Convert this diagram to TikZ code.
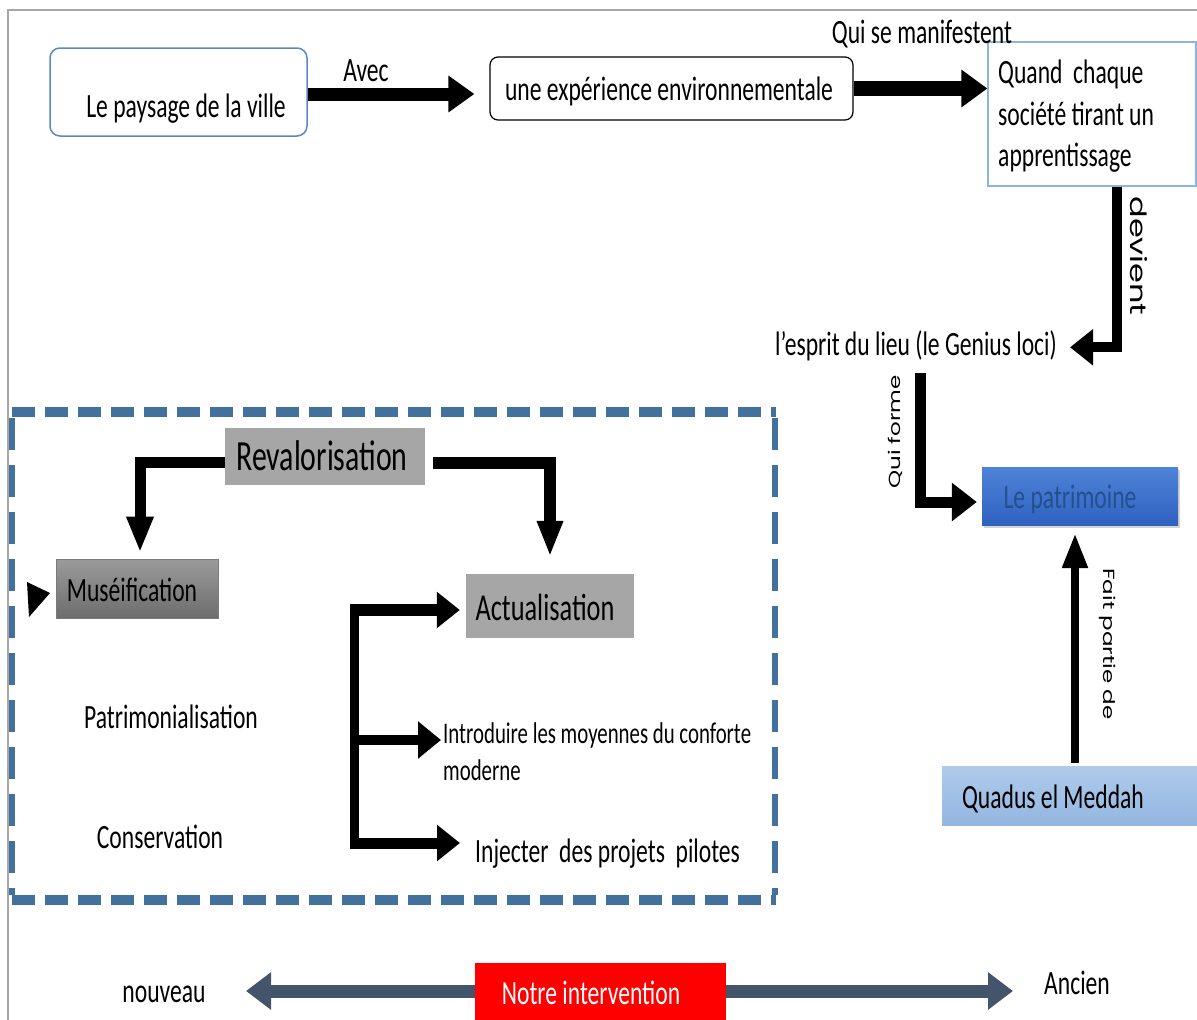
\documentclass[tikz,border=0pt]{standalone}
\usepackage{fontspec}
\setmainfont{Carlito}[FakeStretch=0.694]
\newfontfamily\rotfont{Poppins}
\usepackage{graphicx}
\usetikzlibrary{arrows.meta,shadows}
\definecolor{framegray}{HTML}{A6A6A6}
\definecolor{boxoneblue}{HTML}{5B87C5}
\definecolor{boxthreeblue}{HTML}{8CB4E2}
\definecolor{dashblue}{HTML}{41719C}
\definecolor{grayfill}{HTML}{A6A6A6}
\definecolor{mustop}{HTML}{9B9B9B}
\definecolor{musbot}{HTML}{6D6D6D}
\definecolor{musedge}{HTML}{7A7A7A}
\definecolor{pattop}{HTML}{4F83D8}
\definecolor{patbot}{HTML}{2F62C0}
\definecolor{pattext}{HTML}{24508F}
\definecolor{qdtop}{HTML}{AFCBEB}
\definecolor{qdbot}{HTML}{93B6E0}
\definecolor{slate}{HTML}{44546A}
\definecolor{redbox}{HTML}{FF0000}
\begin{document}
\begin{tikzpicture}[x=1pt,y=-1pt,
  txt/.style={inner sep=0pt, anchor=base, font=\fontsize{34}{40}\selectfont},
  txtl/.style={txt, anchor=base west},
  rot/.style={inner sep=0pt, font=\rotfont\fontsize{23}{28}\selectfont},
  blk/.style={draw=black, line width=#1},
]
\useasboundingbox (0,0) rectangle (1197,1020);

% outer frame
\draw[framegray, line width=1.5pt] (8,1020) -- (8,10) -- (1197,10);

% top row
\node[draw=boxoneblue, line width=1.5pt, rounded corners=10pt, minimum width=257pt, minimum height=88pt, inner sep=0pt] (b1) at (178.5,92) {};
\node[txt] (t1) at (186,117) {Le paysage de la ville};
\node[txt] (avec) at (366,81) {Avec};
\node[draw=black, line width=1.2pt, rounded corners=8pt, minimum width=363pt, minimum height=63pt, inner sep=0pt] (b2) at (671.5,88.5) {};
\node[txt] (t2) at (669,100) {une expérience environnementale};
\node[draw=boxthreeblue, line width=1.2pt, minimum width=208pt, minimum height=144pt, inner sep=0pt] (b3) at (1092,114) {};
\node[txtl] (t3a) at (998,83) {Quand~ chaque};
\node[txtl] (t3b) at (998,125) {société tirant un};
\node[txtl] (t3c) at (998,166) {apprentissage};
\node[txt] (qsm) at (922,43) {Qui se manifestent};

\draw[blk=13pt, -{Triangle[length=26pt,width=35pt]}, shorten >=15pt] ([yshift=-2pt]b1.east) -- ([yshift=-2pt]b1.east -| b2.west);
\draw[blk=15pt, -{Triangle[length=26pt,width=36pt]}] (b2.east) -- (b2.east -| b3.west);

% right column
\node[txt] (esprit) at (916,355) {l’esprit du lieu (le Genius loci)};
\draw[blk=10pt, -{Triangle[length=23pt,width=35pt]}] ([xshift=25pt]b3.south) |- ([xshift=13pt,yshift=-2pt]esprit.east);
\node[rot, rotate=-90, font=\rotfont\fontsize{32}{36}\selectfont] (devient) at (1139,256) {\scalebox{1}[0.7]{devient}};

\node[minimum width=196pt, minimum height=58pt, inner sep=0pt, top color=pattop, bottom color=patbot, drop shadow={opacity=0.35, shadow xshift=2pt, shadow yshift=-3pt}] (pat) at (1080,496) {};
\node[txt, text=pattext] (patt) at (1070,508) {Le patrimoine};
\coordinate (qf) at (920,373);
\draw[blk=11pt, -{Triangle[length=25pt,width=37pt]}, shorten >=5pt] (qf) |- ([yshift=-6pt]pat.west);
\node[rot, rotate=90] (quiforme) at (895,432) {\scalebox{1}[0.7]{Qui forme}};

\node[minimum width=255pt, minimum height=59pt, inner sep=0pt, top color=qdtop, bottom color=qdbot] (qd) at (1069.5,795.5) {};
\node[txt] (qdt) at (1053,808) {Quadus el Meddah};
\coordinate (fa) at ([xshift=5.5pt,yshift=3pt]qd.north);
\draw[blk=8pt, -{Triangle[length=35pt,width=24pt]}, shorten >=8pt] (fa) -- (fa |- pat.south);
\node[rot, rotate=-90] (fpd) at (1108,644) {\scalebox{1}[0.7]{Fait partie de}};

% dashed frame
\draw[dashblue, line width=10pt, dash pattern=on 23pt off 10pt] (12,412) -- (776,412);
\draw[dashblue, line width=10pt, dash pattern=on 23pt off 10pt] (12,900) -- (776,900);
\draw[dashblue, line width=6.5pt, dash pattern=on 32pt off 15pt] (12,418) -- (12,895);
\draw[dashblue, line width=6.5pt, dash pattern=on 32pt off 15pt] (775,418) -- (775,895);

% inside
\node[minimum width=200pt, minimum height=57pt, inner sep=0pt, fill=grayfill] (rev) at (325,456.5) {};
\node[txt, font=\fontsize{43}{46}\selectfont] (revt) at (322,470) {Revalorisation};
\node[minimum width=162pt, minimum height=59pt, inner sep=0pt, top color=mustop, bottom color=musbot, draw=musedge, line width=0.8pt] (mus) at (137,588.5) {};
\node[txt] (must) at (132,601) {Muséification};
\node[minimum width=168pt, minimum height=64pt, inner sep=0pt, fill=grayfill] (act) at (550,606) {};
\node[txt, font=\fontsize{38}{42}\selectfont] (actt) at (545,620) {Actualisation};

\draw[blk=11pt, -{Triangle[length=36pt,width=25pt]}] ([yshift=-5.5pt]rev.west) -| ([xshift=3pt,yshift=6pt]mus.north);
\draw[blk=12pt, -{Triangle[length=36pt,width=24pt]}] ([xshift=8pt,yshift=-6pt]rev.east) -| ([yshift=17pt]act.north);

\fill[black] (27,582) -- (50,593) -- (29,617) -- cycle;

\node[txt] (patri) at (171,728) {Patrimonialisation};
\node[txt] (cons) at (160,848) {Conservation};
\node[txtl, font=\fontsize{30}{34}\selectfont] (intro) at (443,743) {Introduire les moyennes du conforte};
\node[txtl, font=\fontsize{30}{34}\selectfont] (mod) at (443,780) {moderne};
\node[txtl] (inj) at (475,862) {Injecter~ des projets~ pilotes};

\coordinate (bt) at (354,604);
\coordinate (bb) at (354,848);
\coordinate (brt) at (349.5,610);
\coordinate (brm) at (349.5,740);
\coordinate (brb) at (349.5,843);
\draw[blk=9pt] (bt) -- (bb);
\draw[blk=12pt, -{Triangle[length=23pt,width=35pt]}, shorten >=6pt] (brt) -- (brt -| act.west);
\draw[blk=10pt, -{Triangle[length=23pt,width=36pt]}, shorten >=2pt] (brm) -- (brm -| intro.west);
\draw[blk=11pt, -{Triangle[length=23pt,width=35pt]}, shorten >=15pt] (brb) -- (brb -| inj.west);

% bottom
\coordinate (la) at (246,991);
\coordinate (ra) at (1013,991);
\draw[slate, line width=13pt, {Triangle[length=25pt,width=36pt]}-{Triangle[length=25pt,width=36pt]}] (la) -- (ra);
\node[minimum width=251pt, minimum height=57pt, inner sep=0pt, fill=redbox] (ni) at (600.5,991.5) {};
\node[txt, text=white] (nit) at (591,1004) {Notre intervention};
\node[txt] (nouv) at (164,1002) {nouveau};
\node[txt] (anc) at (1077,994) {Ancien};
\end{tikzpicture}
\end{document}
